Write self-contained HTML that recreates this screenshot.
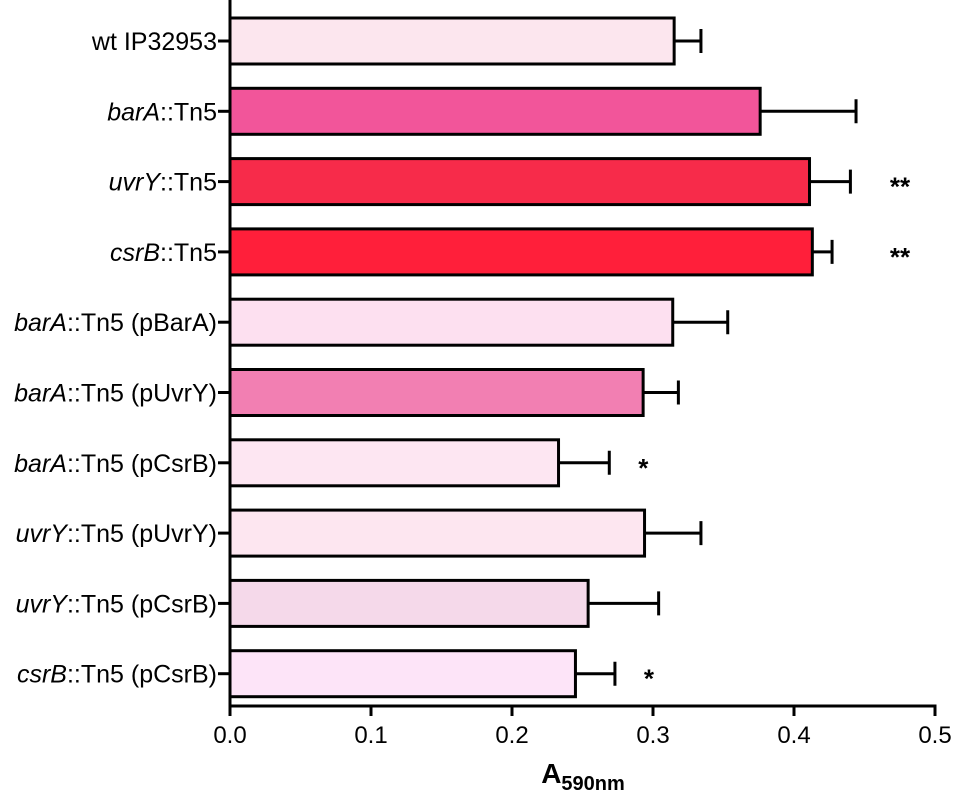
<!DOCTYPE html>
<html><head><meta charset="utf-8"><style>
html,body{margin:0;padding:0;background:#fff;}
svg{display:block;font-family:"Liberation Sans",Arial,sans-serif;}
</style></head><body>
<svg id="chart" width="957" height="798"></svg>
<script>
const categories = ["wt IP32953","barA::Tn5","uvrY::Tn5","csrB::Tn5","barA::Tn5 (pBarA)","barA::Tn5 (pUvrY)","barA::Tn5 (pCsrB)","uvrY::Tn5 (pUvrY)","uvrY::Tn5 (pCsrB)","csrB::Tn5 (pCsrB)"];
const italicParts = ["", "barA","uvrY","csrB","barA","barA","barA","uvrY","uvrY","csrB"];
const values = [0.315,0.376,0.411,0.413,0.314,0.293,0.233,0.294,0.254,0.245];
const errors = [0.019,0.068,0.029,0.014,0.039,0.025,0.036,0.040,0.050,0.028];
const significance = ["","","**","**","","","*","","","*"];
const colors = ["#fce6ee","#f2559a","#f72b4a","#ff1f3a","#fde0f0","#f27fb2","#fde6f2","#fde6f0","#f5d9ea","#fde4f8"];
const xTicks = [0.0,0.1,0.2,0.3,0.4,0.5];
const xTickLabels = ["0.0","0.1","0.2","0.3","0.4","0.5"];

const NS="http://www.w3.org/2000/svg";
const svg=document.getElementById('chart');
const X0=230, X1=935, XMAX=0.5, Y_TOP=0, Y_AXIS=706, ROW0=41, PITCH=70.3, BH=46;
function xScale(v){return X0+(v/XMAX)*(X1-X0);}
function yScale(i){return ROW0+i*PITCH;}
function mk(tag,attrs,parent){const e=document.createElementNS(NS,tag);for(const k in attrs)e.setAttribute(k,attrs[k]);(parent||svg).appendChild(e);return e;}

categories.forEach((c,i)=>{
  const cy=yScale(i), v=values[i];
  const bar=mk('rect',{x:X0,y:cy-BH/2,width:xScale(v)-X0,height:BH,fill:colors[i],stroke:'#000','stroke-width':3});
  
  
  const xe=xScale(v+errors[i]);
  const eb=mk('path',{d:`M${xScale(v)},${cy}H${xe}M${xe},${cy-12}V${cy+12}`,stroke:'#000','stroke-width':3,fill:'none'});
  
  
  const tk=mk('line',{x1:X0-12,x2:X0,y1:cy,y2:cy,stroke:'#000','stroke-width':3});
  
  
  const t=mk('text',{x:217,y:cy+9,'text-anchor':'end','font-size':25,fill:'#000'});
  
  
  const it=italicParts[i];
  if(it && c.startsWith(it)){
    const s1=mk('tspan',{'font-style':'italic'},t);s1.textContent=it;
    const s2=mk('tspan',{},t);s2.textContent=c.slice(it.length);
  } else t.textContent=c;
  if(significance[i]){
    const sx = significance[i]=="**" ? 900 : xScale(v+errors[i])+34;
    const st=mk('text',{x:sx,y:cy+14,'text-anchor':'middle','font-size':26,'font-weight':'bold',fill:'#000'});
    
    
    st.textContent=significance[i];
  }
});
const ya=mk('line',{x1:X0,x2:X0,y1:Y_TOP,y2:Y_AXIS+1.5,stroke:'#000','stroke-width':3});


const xa=mk('line',{x1:X0-1.5,x2:X1+1.5,y1:Y_AXIS,y2:Y_AXIS,stroke:'#000','stroke-width':3});


xTicks.forEach((v,i)=>{
  const tl=mk('line',{x1:xScale(v),x2:xScale(v),y1:Y_AXIS,y2:Y_AXIS+10,stroke:'#000','stroke-width':3});
  
  
  const tt=mk('text',{x:xScale(v),y:Y_AXIS+37,'text-anchor':'middle','font-size':24,fill:'#000'});
  
  
  tt.textContent=xTickLabels[i];
});
const title=mk('text',{x:583,y:783,'text-anchor':'middle','font-size':28,'font-weight':'bold',fill:'#000'});


const a=mk('tspan',{},title);a.textContent='A';
const sub=mk('tspan',{'font-size':20,dy:7},title);sub.textContent='590nm';
</script>
</body></html>
